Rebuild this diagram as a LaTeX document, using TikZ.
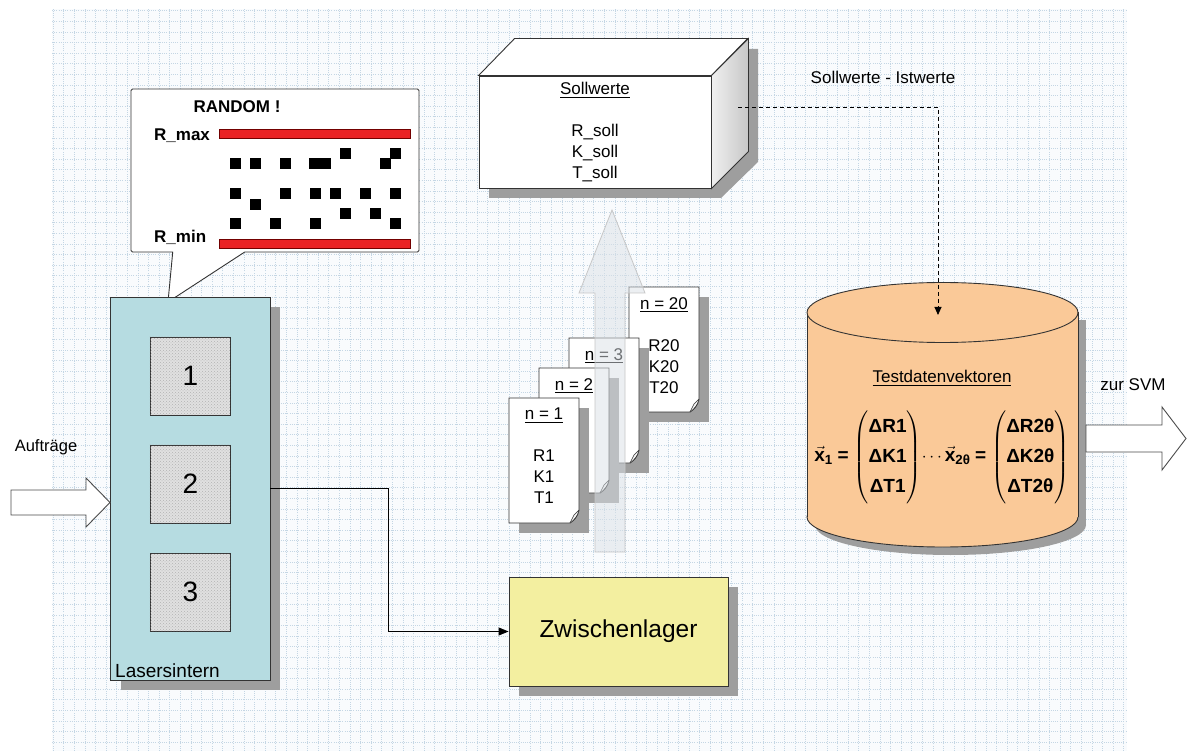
\documentclass[tikz,border=0pt]{standalone}
\usepackage{amsmath}
\usepackage{fontspec}
\setmainfont{Liberation Sans}
\usetikzlibrary{arrows.meta,patterns,shadows,shapes.callouts}

\definecolor{gridline}{RGB}{196,214,228}
\definecolor{gridfill}{RGB}{249,251,253}
\definecolor{laserblue}{RGB}{182,220,225}
\definecolor{slotgray}{RGB}{224,224,224}
\definecolor{lageryellow}{RGB}{243,239,160}
\definecolor{dborange}{RGB}{250,201,152}
\definecolor{barred}{RGB}{234,34,36}
\definecolor{flowgray}{RGB}{218,224,230}

\begin{document}
\begin{tikzpicture}[x=1pt,y=1pt]
        \tikzstyle{every node}+=[inner sep=0pt]
        \tikzstyle{box}=[draw=black!80, line width=0.9pt]
        \tikzstyle{dropgray}=[fill=black!38]
        \tikzstyle{shadowed}=[drop shadow={shadow xshift=10pt, shadow yshift=-10pt, fill=black!38, opacity=1}]
        \tikzstyle{txt}=[font=\fontsize{17}{21}\selectfont, align=center]
        \tikzstyle{boldtxt}=[font=\fontsize{17}{21}\selectfont\bfseries]
        \tikzstyle{slot}=[box, fill=slotgray, postaction={pattern=crosshatch dots, pattern color=black!30}, minimum width=80.7, minimum height=78, font=\fontsize{28}{30}\selectfont]
        \tikzstyle{redbar}=[draw=red!45!black, line width=0.8pt, fill=barred, minimum width=191, minimum height=9]
        \tikzstyle{blockarrow}=[draw=black!70, line width=0.9pt, fill=white]
        \tikzstyle{sheet}=[box, fill=white]
        \tikzstyle{flow}=[line width=0.9pt, -{Triangle[length=10pt,width=8pt]}]
        \tikzstyle{formula}=[font=\fontsize{19}{30}\selectfont\bfseries]
        \useasboundingbox (0,0) rectangle (1187,-751);
        % grid paper
        \fill [gridfill] (52,-751) rectangle (1127,-9);
        \draw [gridline, line width=0.45pt, dash pattern=on 1pt off 1.2pt] (52,-751) grid [step=10.6] (1127,-9);

        % random values between R_min and R_max
        \node [rectangle callout, box, fill=white, rounded corners=1.5pt, minimum width=288, minimum height=163,
               callout absolute pointer={(168,-302)}, callout pointer width=72pt] (bubble) at (275,-170.5) {};
        \node [boldtxt] (random) at (237,-107) {RANDOM !};
        \node [boldtxt, anchor=west] (rmaxtxt) at (154,-136) {R\_max};
        \node [boldtxt, anchor=west] (rmintxt) at (154,-237) {R\_min};
        \node [redbar] (rmax) at (314.5,-133.5) {};
        \node [redbar] (rmin) at (314.5,-243.5) {};
        \foreach \x/\y in {235.8/163.3, 255.2/163.3, 285.3/163.3, 385/163.3, 345.2/153.8, 395.5/153.8,
                           235.8/193.3, 285.3/193.3, 315/193.3, 335.3/193.3, 365/193.3, 395.2/193.3, 255.2/204.5,
                           235.8/223.3, 275/223.3, 315/223.3, 395.2/223.3, 345.2/213.5, 375/213.5}
            \fill ({\x-5.5},{-\y-5.5}) rectangle ++(11,11);
        \fill (309.3,-169) rectangle (331,-157.7);

        % Lasersintern
        \node [box, fill=laserblue, shadowed, minimum width=159.3, minimum height=382.7] (laser) at (190.35,-488.65) {};
        \node [slot] (slot1) at (190.3,-376) {1};
        \node [slot] (slot2) at (190.3,-484) {2};
        \node [slot] (slot3) at (190.3,-592) {3};
        \node [font=\fontsize{19}{22}\selectfont, anchor=base west] (lasertxt) at (115,-677) {Lasersintern};

        \draw [blockarrow] (11,-490) -- (86,-490) -- (86,-478) -- (110,-502.5) -- (86,-527) -- (86,-515) -- (11,-515) -- cycle;
        \node [font=\fontsize{16.5}{20}\selectfont] (auftraege) at (46,-447) {Aufträge};

        % Zwischenlager
        \node [box, fill=lageryellow, shadowed, minimum width=219, minimum height=109, font=\fontsize{24.5}{28}\selectfont] (lager) at (618.5,-631.5) {Zwischenlager};
        \draw [flow] (laser.east) -- ++(118,0) |- (lager.west);

        % Sollwerte block
        \fill [dropgray] (489,-198) -- (489,-86) -- (525,-49) -- (758,-49) -- (758,-162) -- (721,-198) -- cycle;
        \node [box, fill=white, minimum width=232, minimum height=112] (soll) at (595,-132) {};
        \draw [box, fill=white] (soll.north west) -- ++(36,37) -- ++(233,0) -- (soll.north east) -- cycle;
        \draw [box, left color=black!6, right color=black!22] (soll.north east) -- ++(37,37) -- ++(0,-113) -- (soll.south east) -- cycle;
        \node [txt] (solltxt) at (595,-132) {\underline{Sollwerte}\\[21pt]R\_soll\\K\_soll\\T\_soll};

        % n = 1 ... n = 20
        \foreach \l/\t/\n/\body in {629/287/20/{R20\\K20\\T20}, 569/338/3/{}, 539/368/2/{}, 509/398/1/{R1\\K1\\T1}} {
            \fill [dropgray] ({\l+10},{-\t-10}) rectangle ({\l+80},{-\t-135});
            \draw [sheet] (\l,-\t) -- ({\l+70},-\t) -- ({\l+70},{-\t-112})
                .. controls ({\l+69},{-\t-119}) and ({\l+64},{-\t-123}) .. ({\l+61},{-\t-125}) -- (\l,{-\t-125}) -- cycle;
            \draw [box, fill=black!8, line width=0.6pt] ({\l+70},{-\t-112}) -- ({\l+65},{-\t-117}) -- ({\l+61},{-\t-125});
            \node [txt, anchor=north] (title\n) at ({\l+35},{-\t-10}) {\underline{n = \n}};
            \node [txt, anchor=north] (values\n) at ({\l+35},{-\t-52}) {\body};
        }
        \draw [draw=black!22, fill=flowgray, fill opacity=0.5, line width=0.8pt] (595,-552) -- (595,-293) -- (579,-293) -- (612,-210) -- (645,-293) -- (625,-293) -- (625,-552) -- cycle;

        % Testdatenvektoren
        \coordinate (dbtop) at (938,-315);
        \fill [dropgray] (815,-320) rectangle (1086,-525);
        \fill [dropgray] (950.5,-525) ellipse (135.5 and 30);
        \draw [box, fill=dborange] (942.5,-517) ellipse (135.5 and 30);
        \fill [dborange] (807,-312.5) rectangle (1078,-517);
        \draw [box] (807,-312.5) -- (807,-517) (1078,-312.5) -- (1078,-517);
        \draw [box, fill=dborange] (942.5,-312.5) ellipse (135.5 and 30);
        \node [txt] (dbname) at (942,-378) {\underline{Testdatenvektoren}};
        \node [formula] (vectors) at (942,-457) {$\vec{\textbf{x}}_{\textbf{1}}\;$=$\;\left(\begin{tabular}{@{}c@{}}ΔR1\\ΔK1\\ΔT1\end{tabular}\right)\!\cdots\vec{\textbf{x}}_{\textbf{2θ}}\;$=$\;\left(\begin{tabular}{@{}c@{}}ΔR2θ\\ΔK2θ\\ΔT2θ\end{tabular}\right)$};

        \coordinate (sollout) at (738,-107);
        \draw [line width=0.9pt, dash pattern=on 4pt off 3pt, -{Triangle[length=8pt,width=7pt]}] (sollout) -| (dbtop);
        \node [txt] (difftxt) at (883,-77) {Sollwerte - Istwerte};

        % to the SVM
        \draw [blockarrow] (1086,-425) -- (1162,-425) -- (1162,-407) -- (1186,-438.5) -- (1162,-470) -- (1162,-452) -- (1086,-452) -- cycle;
        \node [txt] (svmtxt) at (1133,-385) {zur SVM};
\end{tikzpicture}
\end{document}
